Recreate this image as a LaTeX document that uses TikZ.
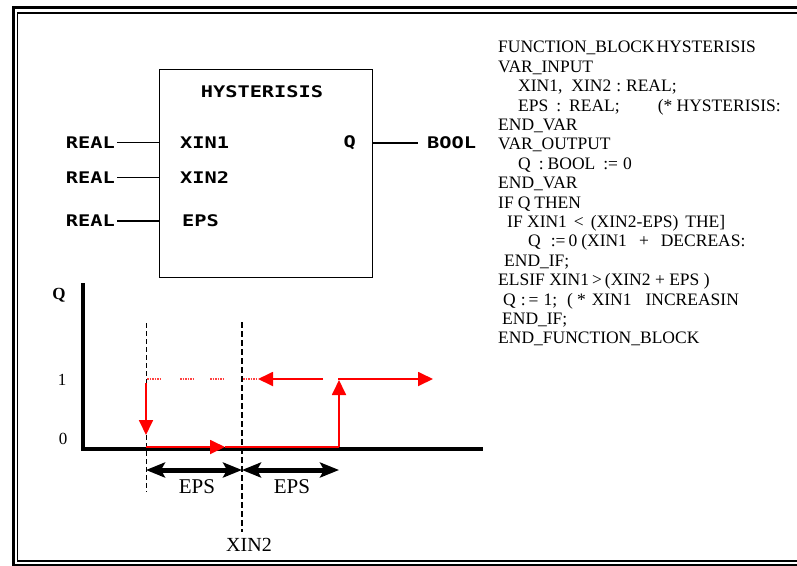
\documentclass[tikz,border=0pt]{standalone}
\usepackage{fontspec}
\setmainfont{Liberation Serif}
\newfontfamily\blockfont{DejaVu Sans Mono}[FakeStretch=1.27]
\usetikzlibrary{arrows.meta,positioning}

\begin{document}
\begin{tikzpicture}[x=1pt, y=-1pt,
	blk/.style={font=\blockfont\bfseries\fontsize{16}{16}\selectfont, inner sep=0pt},
	wire/.style={line width=1.3pt},
	axis/.style={line width=3.5pt},
	redline/.style={red, line width=1.8pt},
	redtip/.style={-{Triangle[length=15pt,width=14pt]}},
	dimtip/.style={{Stealth[length=19pt,width=15pt,inset=4pt]}-{Stealth[length=19pt,width=15pt,inset=4pt]}},
	lbl/.style={inner sep=0pt, font=\fontsize{17}{17}\selectfont}]
	\clip (0,0) rectangle (797,565);
	% Frame:
	\draw[line width=3pt] (13.5,7.5) rectangle (820,565);
	\draw[line width=1.5pt] (17.5,13) rectangle (820,561);

	% Block, pins and wires:
	\node[draw, line width=1.3pt, inner sep=0pt, minimum width=213pt, minimum height=208pt, anchor=north west] (hyst) at (159,69) {};
	\node[blk] (title) at (262,92) {HYSTERISIS};
	\node[blk, anchor=west] (xin1) at (180,142.5) {XIN1};
	\node[blk, anchor=west] (xin2) at (180,177.5) {XIN2};
	\node[blk, anchor=west] (eps) at (182,221) {EPS};
	\node[blk, anchor=east] (q) at (356,143) {Q};
	\node[blk, anchor=east] (real1) at (115,142.5) {REAL};
	\node[blk, anchor=east] (real2) at (115,177.5) {REAL};
	\node[blk, anchor=east] (real3) at (115,221) {REAL};
	\node[blk, anchor=west] (bool) at (427,143) {BOOL};
	\draw[wire] ([xshift=2pt]real1.east) -- (real1.east -| hyst.west);
	\draw[wire] ([xshift=2pt]real2.east) -- (real2.east -| hyst.west);
	\draw[wire] ([xshift=2pt]real3.east) -- (real3.east -| hyst.west);
	\draw[wire] (q.east -| hyst.east) -- ([xshift=-9pt]bool.west);

	% Structured text:
	\node[anchor=north west, align=left, inner sep=0pt, font=\fontsize{17.5}{19.4}\selectfont] (code) at (498,41.2) {%
		FUNCTION\_BLOCK\hspace{2pt}HYSTERISIS\\
		VAR\_INPUT\\
		\hspace*{20pt}XIN1,\hspace{9pt}XIN2\hspace{5pt}:\hspace{5pt}REAL;\\
		\hspace*{20pt}EPS\hspace{8pt}:\hspace{8pt}REAL;\hspace{38pt}(* HYSTERISIS:\\
		END\_VAR\\
		VAR\_OUTPUT\\
		\hspace*{20pt}Q\hspace{8pt}:\hspace{4pt}BOOL\hspace{8pt}:=\hspace{5pt}0\\
		END\_VAR\\
		IF\hspace{4pt}Q\hspace{4pt}THEN\\
		\hspace*{9pt}IF XIN1\hspace{7pt}<\hspace{7pt}(XIN2-EPS)\hspace{7pt}THE]\\
		\hspace*{30pt}Q\hspace{10pt}:=\hspace{3pt}0\hspace{4pt}(XIN1\hspace{12pt}+\hspace{12pt}DECREAS:\\
		\hspace*{6pt}END\_IF;\\
		ELSIF XIN1\hspace{3pt}>\hspace{3pt}(XIN2 + EPS )\\
		\hspace*{5pt}Q\hspace{5pt}:\hspace{3pt}=\hspace{5pt}1;\hspace{10pt}(\hspace{4pt}*\hspace{6pt}XIN1\hspace{14pt}INCREASIN\\
		\hspace*{4pt}END\_IF;\\
		END\_FUNCTION\_BLOCK};

	% Hysteresis curve:
	\coordinate (orig) at (83,449);
	\coordinate (qtop) at (83,283);
	\coordinate (xend) at (483,449);
	\draw[axis] (qtop) -- (orig) -- (xend);
	\node[lbl, font=\bfseries\fontsize{17}{17}\selectfont] (qlabel) at (59,295) {Q};
	\node[lbl] (onelabel) at (62,380) {1};
	\node[lbl] (zerolabel) at (63,439) {0};

	\coordinate (lowtop) at (146,323);
	\coordinate (lowbot) at (146,492);
	\coordinate (midtop) at (242,322);
	\coordinate (midbot) at (242,532);
	\draw[line width=1pt, dash pattern=on 5pt off 3pt] (lowtop) -- (lowbot);
	\draw[line width=2.2pt, dash pattern=on 6pt off 3pt] (midtop) -- (midbot);

	\foreach \x in {147, 180, 210, 243}
		\draw[red!75, line width=1.3pt, dash pattern=on 1.5pt off 1pt] (\x,379) -- ++(15,0);
	\coordinate (backstart) at (323,379);
	\coordinate (backend) at (258,379);
	\coordinate (fwdstart) at (338,379);
	\coordinate (fwdend) at (433,379);
	\coordinate (downstart) at (146,383);
	\coordinate (downend) at (146,435);
	\coordinate (floorl) at (146,447);
	\coordinate (floorm) at (225,447);
	\coordinate (floorr) at (339,447);
	\coordinate (upend) at (339,380);
	\draw[redline, redtip] (backstart) -- (backend);
	\draw[redline, redtip] (fwdstart) -- (fwdend);
	\draw[redline, redtip] (downstart) -- (downend);
	\draw[redline, redtip] (floorl) -- (floorm);
	\draw[redline] (floorm) -- (floorr);
	\draw[redline, redtip] (floorr) -- (upend);

	\coordinate (dimleft) at (146,470);
	\coordinate (dimmid) at (242,470);
	\coordinate (dimright) at (339,470);
	\draw[line width=5pt, dimtip] (dimleft) -- (dimmid);
	\draw[line width=5pt, dimtip] (dimmid) -- (dimright);
	\node[lbl, font=\fontsize{21}{21}\selectfont] (epsleft) at (197,487) {EPS};
	\node[lbl, font=\fontsize{21}{21}\selectfont] (epsright) at (292,487) {EPS};
	\node[lbl, font=\fontsize{20}{20}\selectfont] (xintwo) at (249,545) {XIN2};
\end{tikzpicture}
\end{document}
